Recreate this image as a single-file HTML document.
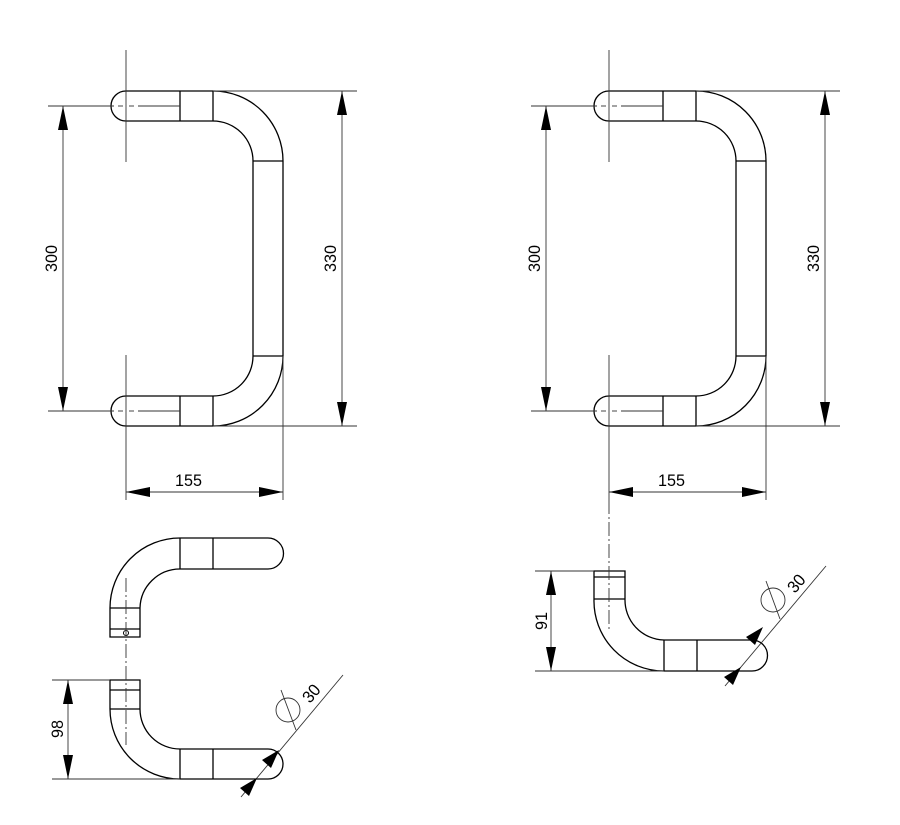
<!DOCTYPE html>
<html><head><meta charset="utf-8"><style>
html,body{margin:0;padding:0;background:#fff;}
svg{display:block;}
text{font-family:"Liberation Sans",sans-serif;font-size:17px;fill:#000;}
</style></head><body>
<svg width="900" height="825" viewBox="0 0 900 825" xmlns="http://www.w3.org/2000/svg">
<defs>
<marker id="a" viewBox="0 0 10 10" refX="10" refY="5" markerWidth="10" markerHeight="24" markerUnits="userSpaceOnUse" orient="auto-start-reverse"><path d="M0,0 L10,5 L0,10 z" fill="#000"/></marker>
<marker id="b" viewBox="0 0 24 10" refX="24" refY="5" markerWidth="24" markerHeight="10" markerUnits="userSpaceOnUse" orient="auto-start-reverse"><path d="M0,0 L24,5 L0,10 z" fill="#000"/></marker>
<g id="top">
  <g fill="none" stroke="#000" stroke-width="1.3">
    <path d="M126,91 A15,15 0 0 0 126,121"/>
    <line x1="126" y1="91" x2="213" y2="91"/><line x1="126" y1="121" x2="213" y2="121"/>
    <line x1="180" y1="91" x2="180" y2="121"/><line x1="213" y1="91" x2="213" y2="121"/>
    <path d="M213,91 A70,70 0 0 1 283,161 L283,356 A70,70 0 0 1 213,426"/>
    <path d="M213,121 A40,40 0 0 1 253,161 L253,356 A40,40 0 0 1 213,396"/>
    <line x1="253" y1="161" x2="283" y2="161"/><line x1="253" y1="356" x2="283" y2="356"/>
    <path d="M126,396 A15,15 0 0 0 126,426"/>
    <line x1="126" y1="396" x2="213" y2="396"/><line x1="126" y1="426" x2="213" y2="426"/>
    <line x1="180" y1="396" x2="180" y2="426"/><line x1="213" y1="396" x2="213" y2="426"/>
  </g>
  <g fill="none" stroke="#333" stroke-width="0.9">
    <line x1="126" y1="50" x2="126" y2="162"/>
    <line x1="126" y1="355" x2="126" y2="500"/>
    <line x1="283" y1="356" x2="283" y2="500"/>
    <line x1="48" y1="106" x2="114" y2="106"/><line x1="118" y1="106" x2="123" y2="106"/><line x1="129" y1="106" x2="134" y2="106"/><line x1="138" y1="106" x2="180" y2="106"/>
    <line x1="48" y1="411" x2="114" y2="411"/><line x1="118" y1="411" x2="123" y2="411"/><line x1="129" y1="411" x2="134" y2="411"/><line x1="138" y1="411" x2="180" y2="411"/>
    <line x1="213" y1="91" x2="357" y2="91"/><line x1="213" y1="426" x2="357" y2="426"/>
    <line x1="63" y1="106" x2="63" y2="411" marker-start="url(#b)" marker-end="url(#b)"/>
    <line x1="342" y1="91" x2="342" y2="426" marker-start="url(#b)" marker-end="url(#b)"/>
    <line x1="126" y1="492" x2="283" y2="492" marker-start="url(#b)" marker-end="url(#b)"/>
  </g>
  <text x="175" y="486" textLength="27" lengthAdjust="spacingAndGlyphs">155</text>
  <text transform="translate(57,272) rotate(-90)" textLength="27" lengthAdjust="spacingAndGlyphs">300</text>
  <text transform="translate(336,272) rotate(-90)" textLength="27" lengthAdjust="spacingAndGlyphs">330</text>
</g>
</defs>
<use href="#top"/>
<use href="#top" transform="translate(483,0)"/>

<!-- bottom left -->
<g fill="none" stroke="#000" stroke-width="1.3">
  <path d="M180,538 L268,538 A15,15 0 0 1 268,569 L180,569"/>
  <line x1="180" y1="538" x2="180" y2="569"/><line x1="213" y1="538" x2="213" y2="569"/>
  <path d="M180,538 A70,70 0 0 0 110,608 L110,637 L140,637 L140,608 A40,40 0 0 1 180,569"/>
  <line x1="110" y1="608" x2="140" y2="608"/><line x1="110" y1="629" x2="140" y2="629"/>
  <circle cx="126" cy="633" r="2.5" stroke-width="1"/>
  <path d="M110,680 L140,680 L140,709 A40,40 0 0 0 180,749 L268,749 A15,15 0 0 1 268,779 L180,779 A70,70 0 0 1 110,709 Z"/>
  <line x1="110" y1="690" x2="140" y2="690"/><line x1="110" y1="709" x2="140" y2="709"/>
  <line x1="180" y1="749" x2="180" y2="779"/><line x1="213" y1="749" x2="213" y2="779"/>
</g>
<g fill="none" stroke="#333" stroke-width="0.9">
  <line x1="126" y1="578" x2="126" y2="745" stroke-dasharray="14,3,2,3"/>
  <line x1="52" y1="680" x2="110" y2="680"/><line x1="52" y1="779" x2="180" y2="779"/>
  <line x1="68" y1="680" x2="68" y2="779" marker-start="url(#b)" marker-end="url(#b)"/>
  <line x1="241" y1="797" x2="343" y2="675"/>
  <circle cx="288" cy="710" r="12"/><line x1="281" y1="690" x2="296" y2="730"/>
</g>
<path d="M279,750 L271,768 L262,760 Z M257,778 L249,796 L240,788 Z" fill="#000"/>
<text transform="translate(310,704) rotate(-50)" textLength="18" lengthAdjust="spacingAndGlyphs">30</text>
<text transform="translate(63,738) rotate(-90)" textLength="18" lengthAdjust="spacingAndGlyphs">98</text>

<!-- bottom right -->
<g fill="none" stroke="#000" stroke-width="1.3">
  <path d="M594,571 L625,571 L625,599 A40,40 0 0 0 664,640 L752,640 A15,15 0 0 1 752,671 L664,671 A70,70 0 0 1 594,599 Z"/>
  <line x1="594" y1="577" x2="625" y2="577"/><line x1="594" y1="599" x2="625" y2="599"/>
  <line x1="664" y1="640" x2="664" y2="671"/><line x1="697" y1="640" x2="697" y2="671"/>
</g>
<g fill="none" stroke="#333" stroke-width="0.9">
  <line x1="609" y1="500" x2="609" y2="630" stroke-dasharray="14,3,2,3"/>
  <line x1="535" y1="571" x2="594" y2="571"/><line x1="535" y1="671" x2="664" y2="671"/>
  <line x1="551" y1="571" x2="551" y2="671" marker-start="url(#b)" marker-end="url(#b)"/>
  <line x1="725" y1="686" x2="826" y2="566"/>
  <circle cx="773" cy="600" r="12"/><line x1="766" y1="581" x2="780" y2="619"/>
</g>
<path d="M763,627 L755,645 L746,637 Z M741,667 L733,685 L724,677 Z" fill="#000"/>
<text transform="translate(795,594) rotate(-50)" textLength="18" lengthAdjust="spacingAndGlyphs">30</text>
<text transform="translate(547,630) rotate(-90)" textLength="18" lengthAdjust="spacingAndGlyphs">91</text>
</svg>
</body></html>
